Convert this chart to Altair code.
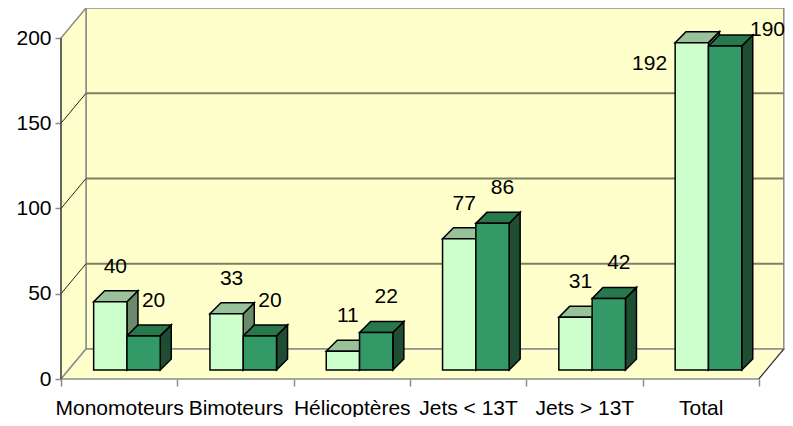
import json
import altair as alt
import pandas as pd

# ---------------- data ----------------
categories = ["Monomoteurs", "Bimoteurs", "Hélicoptères", "Jets < 13T", "Jets > 13T", "Total"]
series_a = [40, 33, 11, 77, 31, 192]
series_b = [20, 20, 22, 86, 42, 190]
y_ticks = [0, 50, 100, 150, 200]

# ---------------- geometry (pixels -> data units) ----------------
W, H = 724, 371
CAT_W = 116.3      # px per category
UNIT_H = 1.705     # px per value unit
XMAX = W / CAT_W
YMAX = H / UNIT_H


def px_x(p):
    return p / CAT_W


def px_y(p):
    return p / UNIT_H


N = len(categories)
VMAX = max(y_ticks)
WALL_DX, WALL_DY = px_x(25), px_y(30)
BAR_OFF_X, BAR_OFF_Y = px_x(7.8), px_y(9)
BAR_W = px_x(33.3)
DEPTH_X, DEPTH_Y = px_x(11), px_y(11)

FONT = "Liberation Sans, Arial, sans-serif"
FS = 21
WALL = "#FFFFCC"
EDGE = "#8C8C8C"
GRID = "#7F7F62"
FACE = {
    0: {"front": "#CCFFCC", "top": "#99C29A", "side": "#6B8A6B"},
    1: {"front": "#339966", "top": "#27784C", "side": "#1E4D34"},
}

xs = alt.Scale(domain=[0, XMAX], nice=False, zero=False)
ys = alt.Scale(domain=[0, YMAX], nice=False, zero=False)

label_expr = json.dumps(categories) + "[datum.value] || ''"
AX_X = alt.Axis(
    values=list(range(N + 1)), labelExpr=label_expr, labelOffset=CAT_W / 2,
    domain=False, grid=False, tickSize=7, tickColor=EDGE, tickWidth=1.5,
    labelFont=FONT, labelFontSize=FS, labelColor="black", labelPadding=11,
    labelOverlap=False, labelBound=False, labelFlush=False, title=None)
AX_Y = alt.Axis(
    values=y_ticks, domain=False, grid=False, tickSize=6, tickColor=EDGE, tickWidth=1.5,
    labelFont=FONT, labelFontSize=FS, labelColor="black", labelPadding=4, title=None)


def X(f):
    return alt.X(f, scale=xs, axis=AX_X)


def Y(f):
    return alt.Y(f, scale=ys, axis=AX_Y)


# ---------------- walls ----------------
back_df = pd.DataFrame([{"x": WALL_DX, "x2": N + WALL_DX, "y": WALL_DY, "y2": VMAX + WALL_DY}])
back = alt.Chart(back_df).mark_rect(fill=WALL, stroke=EDGE, strokeWidth=1.5).encode(
    x=X("x:Q"), x2="x2:Q", y=Y("y:Q"), y2="y2:Q")

left_df = pd.DataFrame([
    {"x": 0.0, "y": 0.0, "y2": VMAX},
    {"x": WALL_DX, "y": WALL_DY, "y2": VMAX + WALL_DY},
])
left = alt.Chart(left_df).mark_area(orient="vertical", fill=WALL, stroke=EDGE, strokeWidth=1.5).encode(
    x=X("x:Q"), y=Y("y:Q"), y2="y2:Q")

floor_df = pd.DataFrame([
    {"y": 0.0, "x": 0.0, "x2": float(N)},
    {"y": WALL_DY, "x": WALL_DX, "x2": N + WALL_DX},
])
floor = alt.Chart(floor_df).mark_area(orient="horizontal", fill=WALL, stroke=EDGE, strokeWidth=1.5).encode(
    y=Y("y:Q"), x=X("x:Q"), x2="x2:Q")

# back wall grid lines
back_grid = alt.Chart(pd.DataFrame(
    [{"x": WALL_DX, "x2": N + WALL_DX, "y": t + WALL_DY} for t in y_ticks[1:-1]]
)).mark_rule(color=GRID, strokeWidth=2).encode(x=X("x:Q"), x2="x2:Q", y=Y("y:Q"))

# left wall diagonals, front vertical edge and right floor edge (thin dark)
dark_rows = [{"x": 0.0, "x2": WALL_DX, "y": float(t), "y2": t + WALL_DY} for t in y_ticks[1:-1]]
dark_rows.append({"x": 0.0, "x2": 0.0, "y": 0.0, "y2": float(VMAX)})
dark_rows.append({"x": float(N), "x2": N + WALL_DX, "y": 0.0, "y2": WALL_DY})
dark_lines = alt.Chart(pd.DataFrame(dark_rows)).mark_rule(color="#222222", strokeWidth=1).encode(
    x=X("x:Q"), x2="x2:Q", y=Y("y:Q"), y2="y2:Q")

# ---------------- bars ----------------
fronts, tops, sides, labels = [], [], [], []
for i, cat in enumerate(categories):
    for s, vals in enumerate([series_a, series_b]):
        v = vals[i]
        bid = f"{i}-{s}"
        x0 = i + 0.5 + BAR_OFF_X - BAR_W + s * BAR_W
        x1 = x0 + BAR_W
        b = BAR_OFF_Y
        t = b + v
        fronts.append({"id": bid, "x": x0, "x2": x1, "y": b, "y2": t, "fill": FACE[s]["front"]})
        tops.append({"id": bid, "y": t, "x": x0, "x2": x1, "fill": FACE[s]["top"]})
        tops.append({"id": bid, "y": t + DEPTH_Y, "x": x0 + DEPTH_X, "x2": x1 + DEPTH_X, "fill": FACE[s]["top"]})
        sides.append({"id": bid, "x": x1, "y": b, "y2": t, "fill": FACE[s]["side"]})
        sides.append({"id": bid, "x": x1 + DEPTH_X, "y": b + DEPTH_Y, "y2": t + DEPTH_Y, "fill": FACE[s]["side"]})
        # label placement
        if t * UNIT_H + 37 + 12 > H:
            if s == 0:
                labels.append({"x": x0 - px_x(8), "y": t - px_y(21), "text": str(v), "align": "right"})
            else:
                labels.append({"x": XMAX, "y": t + px_y(16), "text": str(v), "align": "right"})
        else:
            labels.append({"x": (x0 + x1) / 2 + px_x(5 if s == 0 else 10), "y": t + px_y(35),
                           "text": str(v), "align": "center"})

side_layer = alt.Chart(pd.DataFrame(sides)).mark_area(orient="vertical", stroke="black", strokeWidth=1.5).encode(
    x=X("x:Q"), y=Y("y:Q"), y2="y2:Q",
    color=alt.Color("fill:N", scale=None), detail="id:N")
top_layer = alt.Chart(pd.DataFrame(tops)).mark_area(orient="horizontal", stroke="black", strokeWidth=1.5).encode(
    y=Y("y:Q"), x=X("x:Q"), x2="x2:Q",
    color=alt.Color("fill:N", scale=None), detail="id:N")
front_layer = alt.Chart(pd.DataFrame(fronts)).mark_rect(stroke="black", strokeWidth=1.5).encode(
    x=X("x:Q"), x2="x2:Q", y=Y("y:Q"), y2="y2:Q",
    color=alt.Color("fill:N", scale=None))

lab_df = pd.DataFrame(labels)
label_layers = []
for al in ["center", "left", "right"]:
    sub = lab_df[lab_df["align"] == al]
    if len(sub):
        label_layers.append(alt.Chart(sub).mark_text(
            align=al, baseline="middle", font=FONT, fontSize=FS, color="black").encode(
            x=X("x:Q"), y=Y("y:Q"), text="text:N"))

chart = alt.layer(back, left, floor, back_grid, dark_lines, side_layer, top_layer, front_layer,
                  *label_layers).properties(
    width=W, height=H, autosize="none",
    padding={"left": 53, "top": 0, "right": 0, "bottom": 38},
    background="white",
).configure_view(stroke=None)

chart.save("out.html", embed_options={"renderer": "svg", "actions": False})
